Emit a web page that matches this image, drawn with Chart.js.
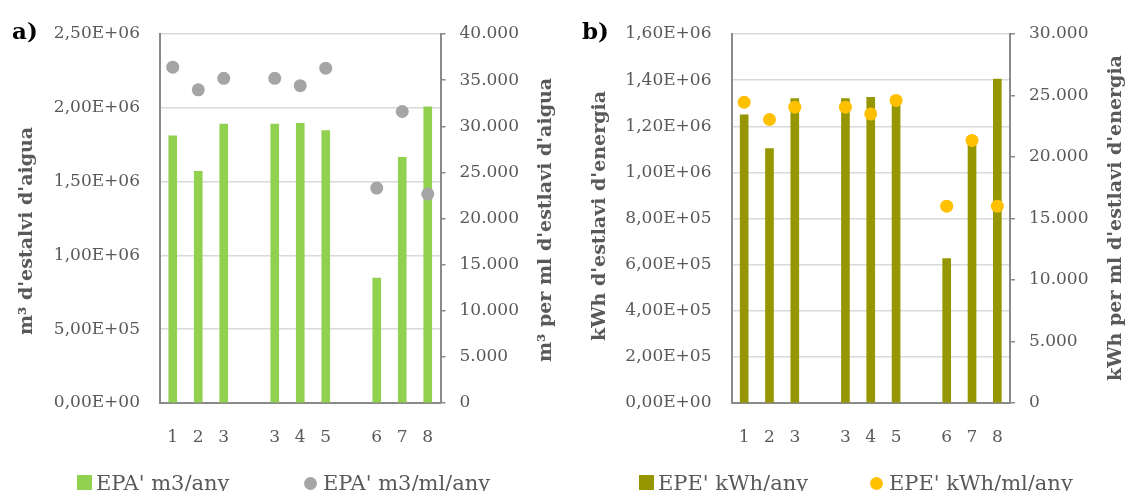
<!DOCTYPE html>
<html>
<head>
<meta charset="utf-8">
<script src="https://cdn.jsdelivr.net/npm/chart.js@4.4.1/dist/chart.umd.min.js"></script>
<style>
html, body { margin: 0; padding: 0; background: #fff; }
body { width: 1131px; height: 491px; position: relative; overflow: hidden; }
.panel { position: absolute; top: 0; height: 491px; }
.tag { position: absolute; top: 19px; font: bold 23px "DejaVu Serif", serif; line-height: 23px; color: #000; }
.leg { position: absolute; top: 473px; font: 21px "DejaVu Serif", serif; line-height: 21px; color: #595959; white-space: nowrap; }
.leg i { position: absolute; left: 0; display: block; }
</style>
</head>
<body>
<div class="panel" style="left:0;width:565px"><canvas id="chartA"></canvas></div>
<div class="panel" style="left:565px;width:566px"><canvas id="chartB"></canvas></div>
<div class="tag" style="left:12px">a)</div>
<div class="tag" style="left:582px">b)</div>
<div id="legends"></div>
<script>
// categories (the empty ones are the gaps between groups)
var categories = ['1', '2', '3', '', '3', '4', '5', '', '6', '7', '8'];

// a) water savings
var waterPerYear = [1810000, 1570000, 1890000, null, 1890000, 1895000, 1845000, null, 847000, 1665000, 2007000];
var waterPerMl = [36400, 33950, 35200, null, 35200, 34400, 36300, null, 23300, 31600, 22650];

// b) energy savings
var energyPerYear = [1250000, 1103000, 1320000, null, 1320000, 1325000, 1300000, null, 626000, 1125000, 1405000];
var energyPerMl = [24450, 23050, 24050, null, 24050, 23500, 24600, null, 16000, 21350, 16000];

var TICK = '#595959';
var AXIS = '#8a8a8a';
var GRID = '#d9d9d9';

Chart.defaults.font.family = '"DejaVu Serif", serif';
Chart.defaults.color = TICK;

function sciLabel(v) {
  if (v === 0) return '0,00E+00';
  var e = Math.floor(Math.log10(v) + 1e-9);
  var m = v / Math.pow(10, e);
  return m.toFixed(2).replace('.', ',') + 'E+' + String(e).padStart(2, '0');
}

function thousandsLabel(v) {
  if (v === 0) return '0';
  return String(Math.round(v)).replace(/\B(?=(\d{3})+(?!\d))/g, '.');
}

// axis titles, both read bottom to top like the original
var sideTitles = {
  id: 'sideTitles',
  afterDraw: function (chart, args, opts) {
    var ctx = chart.ctx;
    ctx.save();
    ctx.font = 'bold 19px "DejaVu Serif", serif';
    ctx.fillStyle = TICK;
    ctx.textAlign = 'center';
    ctx.textBaseline = 'middle';
    opts.items.forEach(function (t) {
      ctx.save();
      ctx.translate(t.x, t.y);
      ctx.rotate(-Math.PI / 2);
      ctx.fillText(t.text, 0, 0);
      ctx.restore();
    });
    ctx.restore();
  }
};

function buildPanel(id, o) {
  return new Chart(document.getElementById(id), {
    data: {
      labels: categories,
      datasets: [
        {
          type: 'bar', label: o.barLabel, data: o.bars,
          backgroundColor: o.barColor, barThickness: 8, yAxisID: 'y', order: 2
        },
        {
          type: 'line', label: o.dotLabel, data: o.dots, showLine: false,
          pointRadius: 6.5, pointHoverRadius: 6.5, pointBorderWidth: 0,
          pointBackgroundColor: o.dotColor, borderColor: o.dotColor, backgroundColor: o.dotColor,
          yAxisID: 'y1', order: 1
        }
      ]
    },
    options: {
      responsive: true,
      maintainAspectRatio: false,
      animation: false,
      layout: { padding: { top: 34, left: 0, right: 0, bottom: 0 } },
      plugins: {
        legend: { display: false },
        tooltip: { enabled: false },
        sideTitles: { items: o.titles }
      },
      scales: {
        x: {
          grid: { display: false },
          border: { display: true, color: AXIS, width: 2 },
          ticks: { padding: 16, font: { size: 17 }, color: TICK, autoSkip: false, maxRotation: 0 },
          afterFit: function (s) { s.height = 88; }
        },
        y: {
          position: 'left', min: 0, max: o.leftMax,
          ticks: { stepSize: o.leftStep, callback: sciLabel, padding: 20, font: { size: 17 }, color: TICK },
          grid: { color: GRID, lineWidth: 1.5, drawTicks: false },
          border: { color: AXIS, width: 2 },
          afterFit: function (s) { s.width = o.leftWidth; }
        },
        y1: {
          position: 'right', min: 0, max: o.rightMax,
          ticks: { stepSize: 5000, callback: thousandsLabel, padding: 14, font: { size: 17 }, color: TICK },
          grid: { drawOnChartArea: false, color: AXIS, tickLength: 5, lineWidth: 1.5 },
          border: { color: AXIS, width: 2 },
          afterFit: function (s) { s.width = o.rightWidth; }
        }
      }
    },
    plugins: [sideTitles]
  });
}

var chartA = buildPanel('chartA', {
  bars: waterPerYear, dots: waterPerMl,
  barLabel: "EPA' m3/any", dotLabel: "EPA' m3/ml/any",
  barColor: '#92D050', dotColor: '#A5A5A5',
  leftMax: 2500000, leftStep: 500000, rightMax: 40000,
  leftWidth: 160, rightWidth: 124.5,
  titles: [
    { text: 'm³ d\'estalvi d\'aigua', x: 27, y: 231 },
    { text: 'm³ per ml d\'estlavi d\'aigua', x: 546, y: 220 }
  ]
});

var chartB = buildPanel('chartB', {
  bars: energyPerYear, dots: energyPerMl,
  barLabel: "EPE' kWh/any", dotLabel: "EPE' kWh/ml/any",
  barColor: '#969600', dotColor: '#FFC000',
  leftMax: 1600000, leftStep: 200000, rightMax: 30000,
  leftWidth: 166.5, rightWidth: 121,
  titles: [
    { text: 'kWh d\'estlavi d\'energia', x: 35, y: 216 },
    { text: 'kWh per ml d\'estlavi d\'energia', x: 551, y: 218 }
  ]
});

// legends under each panel, built from the chart datasets
function addLegend(chart, lefts) {
  var host = document.getElementById('legends');
  chart.data.datasets.forEach(function (ds, i) {
    var item = document.createElement('div');
    item.className = 'leg';
    item.style.left = lefts[i] + 'px';
    item.style.paddingLeft = '19px';
    var mark = document.createElement('i');
    if (ds.type === 'bar') {
      mark.style.cssText = 'top:2px;width:15px;height:15px;background:' + ds.backgroundColor;
    } else {
      mark.style.cssText = 'top:3.5px;width:13px;height:13px;border-radius:50%;background:' + ds.pointBackgroundColor;
    }
    item.appendChild(mark);
    item.appendChild(document.createTextNode(ds.label));
    host.appendChild(item);
  });
}
addLegend(chartA, [77, 304]);
addLegend(chartB, [639, 870]);
</script>
</body>
</html>
